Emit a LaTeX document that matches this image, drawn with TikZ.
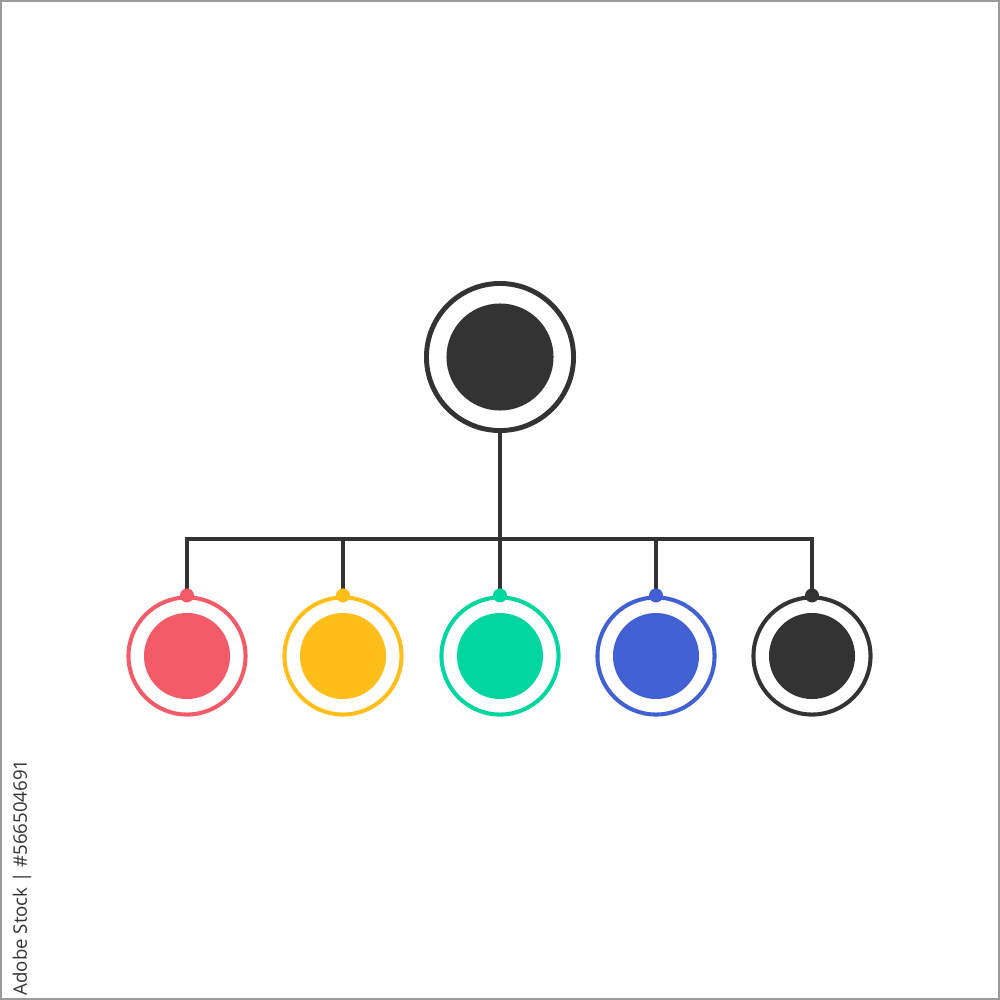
\documentclass[tikz,border=0pt]{standalone}
\usepackage{fontspec}
\newfontfamily\stockfont{Open Sans}
\definecolor{cred}{HTML}{F45B69}
\definecolor{cyel}{HTML}{FFBE1A}
\definecolor{cgrn}{HTML}{02D6A0}
\definecolor{cblu}{HTML}{4060D4}
\definecolor{cdrk}{HTML}{333333}
\definecolor{cframe}{HTML}{9A9A9A}
\begin{document}
\begin{tikzpicture}[x=0.01cm,y=-0.01cm,
  link/.style={draw=cdrk,line width=1.15pt},
  ring/.style={circle,draw=#1,line width=1.2pt,fill=white,minimum size=119.5\pgflinewidth, inner sep=0pt},
  core/.style={circle,fill=#1,minimum size=0.86cm,inner sep=0pt},
  dotn/.style={circle,fill=#1,minimum size=0.14cm,inner sep=0pt}]
\useasboundingbox (0,0) rectangle (1000,1000);
\fill[white] (0,0) rectangle (1000,1000);
\draw[cframe,line width=0.6pt] (1,1) rectangle (999,999);
% top node
\node[circle,draw=cdrk,line width=1.4pt,minimum size=1.47cm,inner sep=0pt] (top) at (500,357) {};
\node[core=cdrk,minimum size=1.07cm] (topc) at (500,357) {};
% hub coordinate
\coordinate (hub) at (500,539);
\foreach \i/\x/\c in {1/187/cred,2/343/cyel,3/500/cgrn,4/656/cblu,5/812/cdrk}{
  \node[circle,draw=\c,line width=1.15pt,minimum size=1.17cm,inner sep=0pt] (r\i) at (\x,656) {};
  \node[core=\c] (c\i) at (\x,656) {};
  \coordinate (b\i) at (\x,539);
}
\draw[link] (top.south) -- (hub);
\draw[link] (r1.north) -- (b1) -- (b5) -- (r5.north);
\foreach \i in {2,3,4}{\draw[link] (b\i) -- (r\i.north);}
\foreach \i/\c in {1/cred,2/cyel,3/cgrn,4/cblu,5/cdrk}{
  \node[dotn=\c] (d\i) at (r\i.north) {};
}
\node[rotate=90,anchor=west,inner sep=0pt,text=black!80] (wm) at (22,996) {\stockfont\fontsize{5.3}{6}\selectfont Adobe Stock | \#566504691};
\end{tikzpicture}
\end{document}
